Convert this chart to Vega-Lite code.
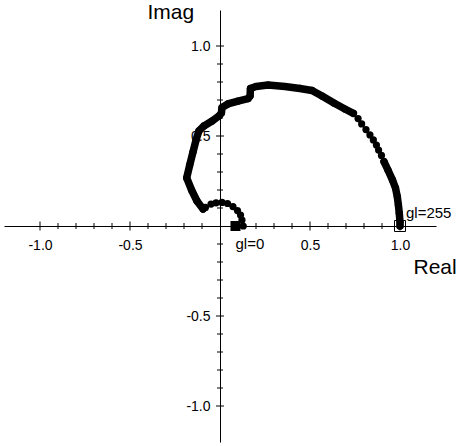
{
  "$schema": "https://vega.github.io/schema/vega-lite/v6.json",
  "width": 432,
  "height": 432,
  "autosize": {"type": "none"},
  "padding": {"left": 4, "top": 10, "right": 24, "bottom": 4},
  "background": "white",
  "config": {
    "view": {"stroke": null},
    "font": "Liberation Sans",
    "axisX": {
      "orient": "bottom", "offset": -216,
      "ticks": false, "grid": false,
      "domainColor": "black", "domainWidth": 1,
      "labelColor": "black", "labelFont": "Liberation Sans", "labelFontSize": 14,
      "labelPadding": 12, "labelFlush": false, "labelOverlap": false,
      "titleFont": "Liberation Sans", "titleFontSize": 21,
      "titleFontWeight": "normal", "titleColor": "black",
      "titleAngle": 0, "titleAlign": "left", "titleBaseline": "alphabetic",
      "titleX": 409, "titleY": 47
    },
    "axisY": {
      "orient": "left", "offset": -216,
      "ticks": false, "grid": false,
      "domainColor": "black", "domainWidth": 1,
      "labelColor": "black", "labelFont": "Liberation Sans", "labelFontSize": 14,
      "labelPadding": 10, "labelFlush": false, "labelOverlap": false,
      "titleFont": "Liberation Sans", "titleFontSize": 21,
      "titleFontWeight": "normal", "titleColor": "black",
      "titleAngle": 0, "titleAlign": "left", "titleBaseline": "alphabetic",
      "titleX": -73, "titleY": 8
    }
  },
  "datasets": {
    "curve": [
      {"i": 0, "re": 0.129, "im": 0.0, "run": 1},
      {"i": 1, "re": 0.122, "im": 0.033, "run": 1},
      {"i": 2, "re": 0.114, "im": 0.061, "run": 1},
      {"i": 3, "re": 0.097, "im": 0.086, "run": 1},
      {"i": 4, "re": 0.072, "im": 0.108, "run": 1},
      {"i": 5, "re": 0.042, "im": 0.125, "run": 1},
      {"i": 6, "re": 0.011, "im": 0.131, "run": 1},
      {"i": 7, "re": -0.022, "im": 0.129, "run": 1},
      {"i": 8, "re": -0.05, "im": 0.122, "run": 1},
      {"i": 9, "re": -0.081, "im": 0.103, "run": 1},
      {"i": 10, "re": -0.094, "im": 0.094, "run": 2},
      {"i": 11, "re": -0.128, "im": 0.139, "run": 2},
      {"i": 12, "re": -0.158, "im": 0.2, "run": 2},
      {"i": 13, "re": -0.185, "im": 0.267, "run": 2},
      {"i": 14, "re": -0.168, "im": 0.339, "run": 2},
      {"i": 15, "re": -0.15, "im": 0.411, "run": 2},
      {"i": 16, "re": -0.133, "im": 0.478, "run": 2},
      {"i": 17, "re": -0.117, "im": 0.528, "run": 2},
      {"i": 18, "re": -0.089, "im": 0.556, "run": 2},
      {"i": 19, "re": -0.044, "im": 0.583, "run": 2},
      {"i": 20, "re": -0.006, "im": 0.611, "run": 2},
      {"i": 21, "re": 0.008, "im": 0.628, "run": 2},
      {"i": 22, "re": 0.011, "im": 0.658, "run": 2},
      {"i": 23, "re": 0.044, "im": 0.678, "run": 2},
      {"i": 24, "re": 0.1, "im": 0.694, "run": 2},
      {"i": 25, "re": 0.156, "im": 0.708, "run": 2},
      {"i": 26, "re": 0.167, "im": 0.722, "run": 2},
      {"i": 27, "re": 0.169, "im": 0.764, "run": 2},
      {"i": 28, "re": 0.2, "im": 0.775, "run": 2},
      {"i": 29, "re": 0.267, "im": 0.783, "run": 2},
      {"i": 30, "re": 0.361, "im": 0.775, "run": 2},
      {"i": 31, "re": 0.444, "im": 0.764, "run": 2},
      {"i": 32, "re": 0.511, "im": 0.753, "run": 2},
      {"i": 33, "re": 0.567, "im": 0.722, "run": 2},
      {"i": 34, "re": 0.633, "im": 0.683, "run": 2},
      {"i": 35, "re": 0.694, "im": 0.65, "run": 2},
      {"i": 36, "re": 0.741, "im": 0.626, "run": 2},
      {"i": 37, "re": 0.767, "im": 0.597, "run": 3},
      {"i": 38, "re": 0.787, "im": 0.567, "run": 3},
      {"i": 39, "re": 0.811, "im": 0.536, "run": 3},
      {"i": 40, "re": 0.833, "im": 0.506, "run": 3},
      {"i": 41, "re": 0.852, "im": 0.478, "run": 3},
      {"i": 42, "re": 0.869, "im": 0.45, "run": 3},
      {"i": 43, "re": 0.881, "im": 0.422, "run": 3},
      {"i": 44, "re": 0.897, "im": 0.392, "run": 3},
      {"i": 45, "re": 0.911, "im": 0.358, "run": 4},
      {"i": 46, "re": 0.933, "im": 0.311, "run": 4},
      {"i": 47, "re": 0.958, "im": 0.256, "run": 4},
      {"i": 48, "re": 0.975, "im": 0.211, "run": 4},
      {"i": 49, "re": 0.985, "im": 0.163, "run": 4},
      {"i": 50, "re": 0.991, "im": 0.117, "run": 4},
      {"i": 51, "re": 0.996, "im": 0.071, "run": 4},
      {"i": 52, "re": 1.0, "im": 0.022, "run": 4},
      {"i": 53, "re": 1.0, "im": 0.0, "run": 4}
    ],
    "ends": [
      {"gl": 0, "re": 0.086, "im": 0.0, "label": "gl=0"},
      {"gl": 255, "re": 1.0, "im": 0.0, "label": "gl=255"}
    ],
    "majorTicks": [{"t": -1.0}, {"t": -0.5}, {"t": 0.5}, {"t": 1.0}],
    "minorTicks": [
      {"t": -0.9}, {"t": -0.8}, {"t": -0.7}, {"t": -0.6}, {"t": -0.4},
      {"t": -0.3}, {"t": -0.2}, {"t": -0.1}, {"t": 0.1}, {"t": 0.2},
      {"t": 0.3}, {"t": 0.4}, {"t": 0.6}, {"t": 0.7}, {"t": 0.8}, {"t": 0.9}
    ]
  },
  "encoding": {
    "x": {
      "type": "quantitative", "title": "Real",
      "scale": {"domain": [-1.2, 1.2], "nice": false, "zero": false},
      "axis": {
        "values": [-1, -0.5, 0.5, 1],
        "labelExpr": "datum.value < 0 ? '-' + format(-datum.value, '.1f') : format(datum.value, '.1f')"
      }
    },
    "y": {
      "type": "quantitative", "title": "Imag",
      "scale": {"domain": [-1.2, 1.2], "nice": false, "zero": false},
      "axis": {
        "values": [-1, -0.5, 0.5, 1],
        "labelExpr": "datum.value < 0 ? '-' + format(-datum.value, '.1f') : format(datum.value, '.1f')"
      }
    }
  },
  "layer": [
    {
      "data": {"name": "majorTicks"},
      "mark": {"type": "tick", "orient": "vertical", "size": 9, "thickness": 1, "color": "black", "opacity": 1},
      "encoding": {
        "x": {"field": "t"},
        "y": {"datum": 0}
      }
    },
    {
      "data": {"name": "minorTicks"},
      "mark": {"type": "tick", "orient": "vertical", "size": 6, "thickness": 1, "color": "black", "opacity": 1},
      "encoding": {
        "x": {"field": "t"},
        "y": {"datum": 0}
      }
    },
    {
      "data": {"name": "majorTicks"},
      "mark": {"type": "tick", "orient": "horizontal", "size": 8, "thickness": 1, "color": "black", "opacity": 1},
      "encoding": {
        "x": {"datum": 0},
        "y": {"field": "t"}
      }
    },
    {
      "data": {"name": "minorTicks"},
      "mark": {"type": "tick", "orient": "horizontal", "size": 6, "thickness": 1, "color": "black", "opacity": 1},
      "encoding": {
        "x": {"datum": 0},
        "y": {"field": "t"}
      }
    },
    {
      "data": {"name": "curve"},
      "transform": [{"filter": "datum.run == 2 || datum.run == 4"}],
      "mark": {"type": "line", "color": "black", "strokeWidth": 7.5, "strokeCap": "round", "strokeJoin": "round"},
      "encoding": {
        "x": {"field": "re"},
        "y": {"field": "im"},
        "detail": {"field": "run", "type": "nominal"},
        "order": {"field": "i", "type": "quantitative"}
      }
    },
    {
      "data": {"name": "curve"},
      "mark": {"type": "point", "shape": "circle", "filled": true, "color": "black", "opacity": 1, "size": 52},
      "encoding": {
        "x": {"field": "re"},
        "y": {"field": "im"}
      }
    },
    {
      "data": {"name": "ends"},
      "transform": [{"filter": "datum.gl == 0"}],
      "mark": {"type": "point", "shape": "square", "filled": true, "color": "black", "opacity": 1, "size": 100},
      "encoding": {
        "x": {"field": "re"},
        "y": {"field": "im"}
      }
    },
    {
      "data": {"name": "ends"},
      "transform": [{"filter": "datum.gl == 255"}],
      "mark": {"type": "point", "shape": "square", "filled": false, "stroke": "black", "strokeWidth": 1, "opacity": 1, "size": 121},
      "encoding": {
        "x": {"field": "re"},
        "y": {"field": "im"}
      }
    },
    {
      "data": {"name": "ends"},
      "transform": [{"filter": "datum.gl == 0"}],
      "mark": {"type": "text", "font": "Liberation Sans", "fontSize": 15, "color": "black", "align": "left", "baseline": "alphabetic", "dx": 0, "dy": 23},
      "encoding": {
        "x": {"field": "re"},
        "y": {"field": "im"},
        "text": {"field": "label"}
      }
    },
    {
      "data": {"name": "ends"},
      "transform": [{"filter": "datum.gl == 255"}],
      "mark": {"type": "text", "font": "Liberation Sans", "fontSize": 15, "color": "black", "align": "left", "baseline": "alphabetic", "dx": 6, "dy": -8},
      "encoding": {
        "x": {"field": "re"},
        "y": {"field": "im"},
        "text": {"field": "label"}
      }
    }
  ]
}
